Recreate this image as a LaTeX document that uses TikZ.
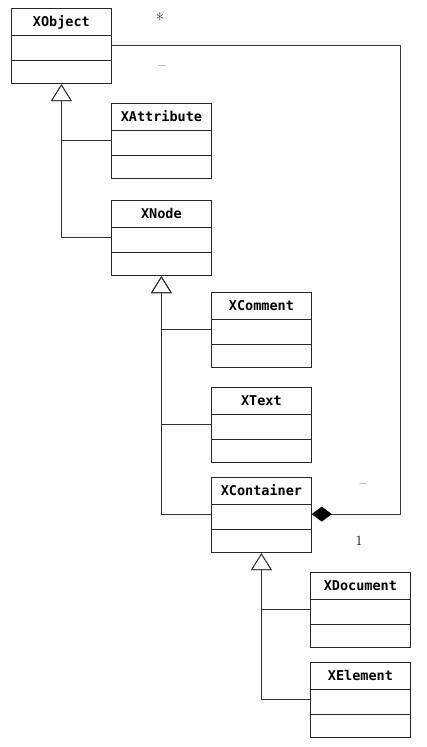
\documentclass[tikz,border=0pt]{standalone}
\usepackage{fontspec}
\newfontfamily\classfont{DejaVu Sans Mono}
\usetikzlibrary{calc,arrows.meta,shapes.multipart}
\tikzset{uml class/.style={draw=black!85, line width=0.8pt, rectangle split, rectangle split parts=3,
    anchor=north west, inner xsep=0pt, inner ysep=0pt, text width=100pt, align=center,
    font=\classfont\bfseries\fontsize{13.5}{15}\selectfont}}
\tikzset{inherit/.style={draw=black!80, line width=0.8pt, -{Triangle[open, length=17pt, width=21pt]}}}
\tikzset{mult label/.style={font=\fontsize{14}{16}\selectfont, inner sep=0pt}}
\def\cls#1{\rule[-8pt]{0pt}{26pt}#1\nodepart{two}\rule{0pt}{24pt}\nodepart{three}\rule{0pt}{23pt}}

\begin{document}
\begin{tikzpicture}[x=1pt, y=-1pt]
      \useasboundingbox (0,0) rectangle (427,747);

      %クラス
      \node[uml class] (xobject) at (11,8) {\cls{XObject}};
      \node[uml class] (xattribute) at (111,103) {\cls{XAttribute}};
      \node[uml class] (xnode) at (111,200) {\cls{XNode}};
      \node[uml class] (xcomment) at (211,292) {\cls{XComment}};
      \node[uml class] (xtext) at (211,387) {\cls{XText}};
      \node[uml class] (xcontainer) at (211,477) {\cls{XContainer}};
      \node[uml class] (xdocument) at (310,572) {\cls{XDocument}};
      \node[uml class] (xelement) at (310,662) {\cls{XElement}};

      %継承
      \draw[inherit] ($(xattribute.text split west)!.4!(xattribute.two split west)$) -| (xobject.south);
      \draw[inherit] ($(xnode.text split west)!.4!(xnode.two split west)$) -| (xobject.south);
      \draw[inherit] ($(xcomment.text split west)!.4!(xcomment.two split west)$) -| (xnode.south);
      \draw[inherit] ($(xtext.text split west)!.4!(xtext.two split west)$) -| (xnode.south);
      \draw[inherit] ($(xcontainer.text split west)!.4!(xcontainer.two split west)$) -| (xnode.south);
      \draw[inherit] ($(xdocument.text split west)!.4!(xdocument.two split west)$) -| (xcontainer.south);
      \draw[inherit] ($(xelement.text split west)!.4!(xelement.two split west)$) -| (xcontainer.south);

      %コンポジション xcontainer -> xobject
      \coordinate (xobject-end) at ($(xobject.text split east)!.4!(xobject.two split east)$);
      \coordinate (xcontainer-end) at ($(xcontainer.text split east)!.4!(xcontainer.two split east)$);
      \coordinate (turn) at (400,0);
      \draw[draw=black!80, line width=0.8pt, {Diamond[length=20pt, width=15pt, fill=black, color=black]}-]
        (xcontainer-end) -| (xobject-end -| turn) -- (xobject-end);

      %多重度
      \node[mult label, font=\fontsize{18}{20}\selectfont] (xobject-mult) at (160,20) {*};
      \node[mult label] (xobject-role) at (162,68) {--};
      \node[mult label] (xcontainer-role) at (363,486) {--};
      \node[mult label] (xcontainer-mult) at (359,541) {1};

    \end{tikzpicture}
\end{document}
